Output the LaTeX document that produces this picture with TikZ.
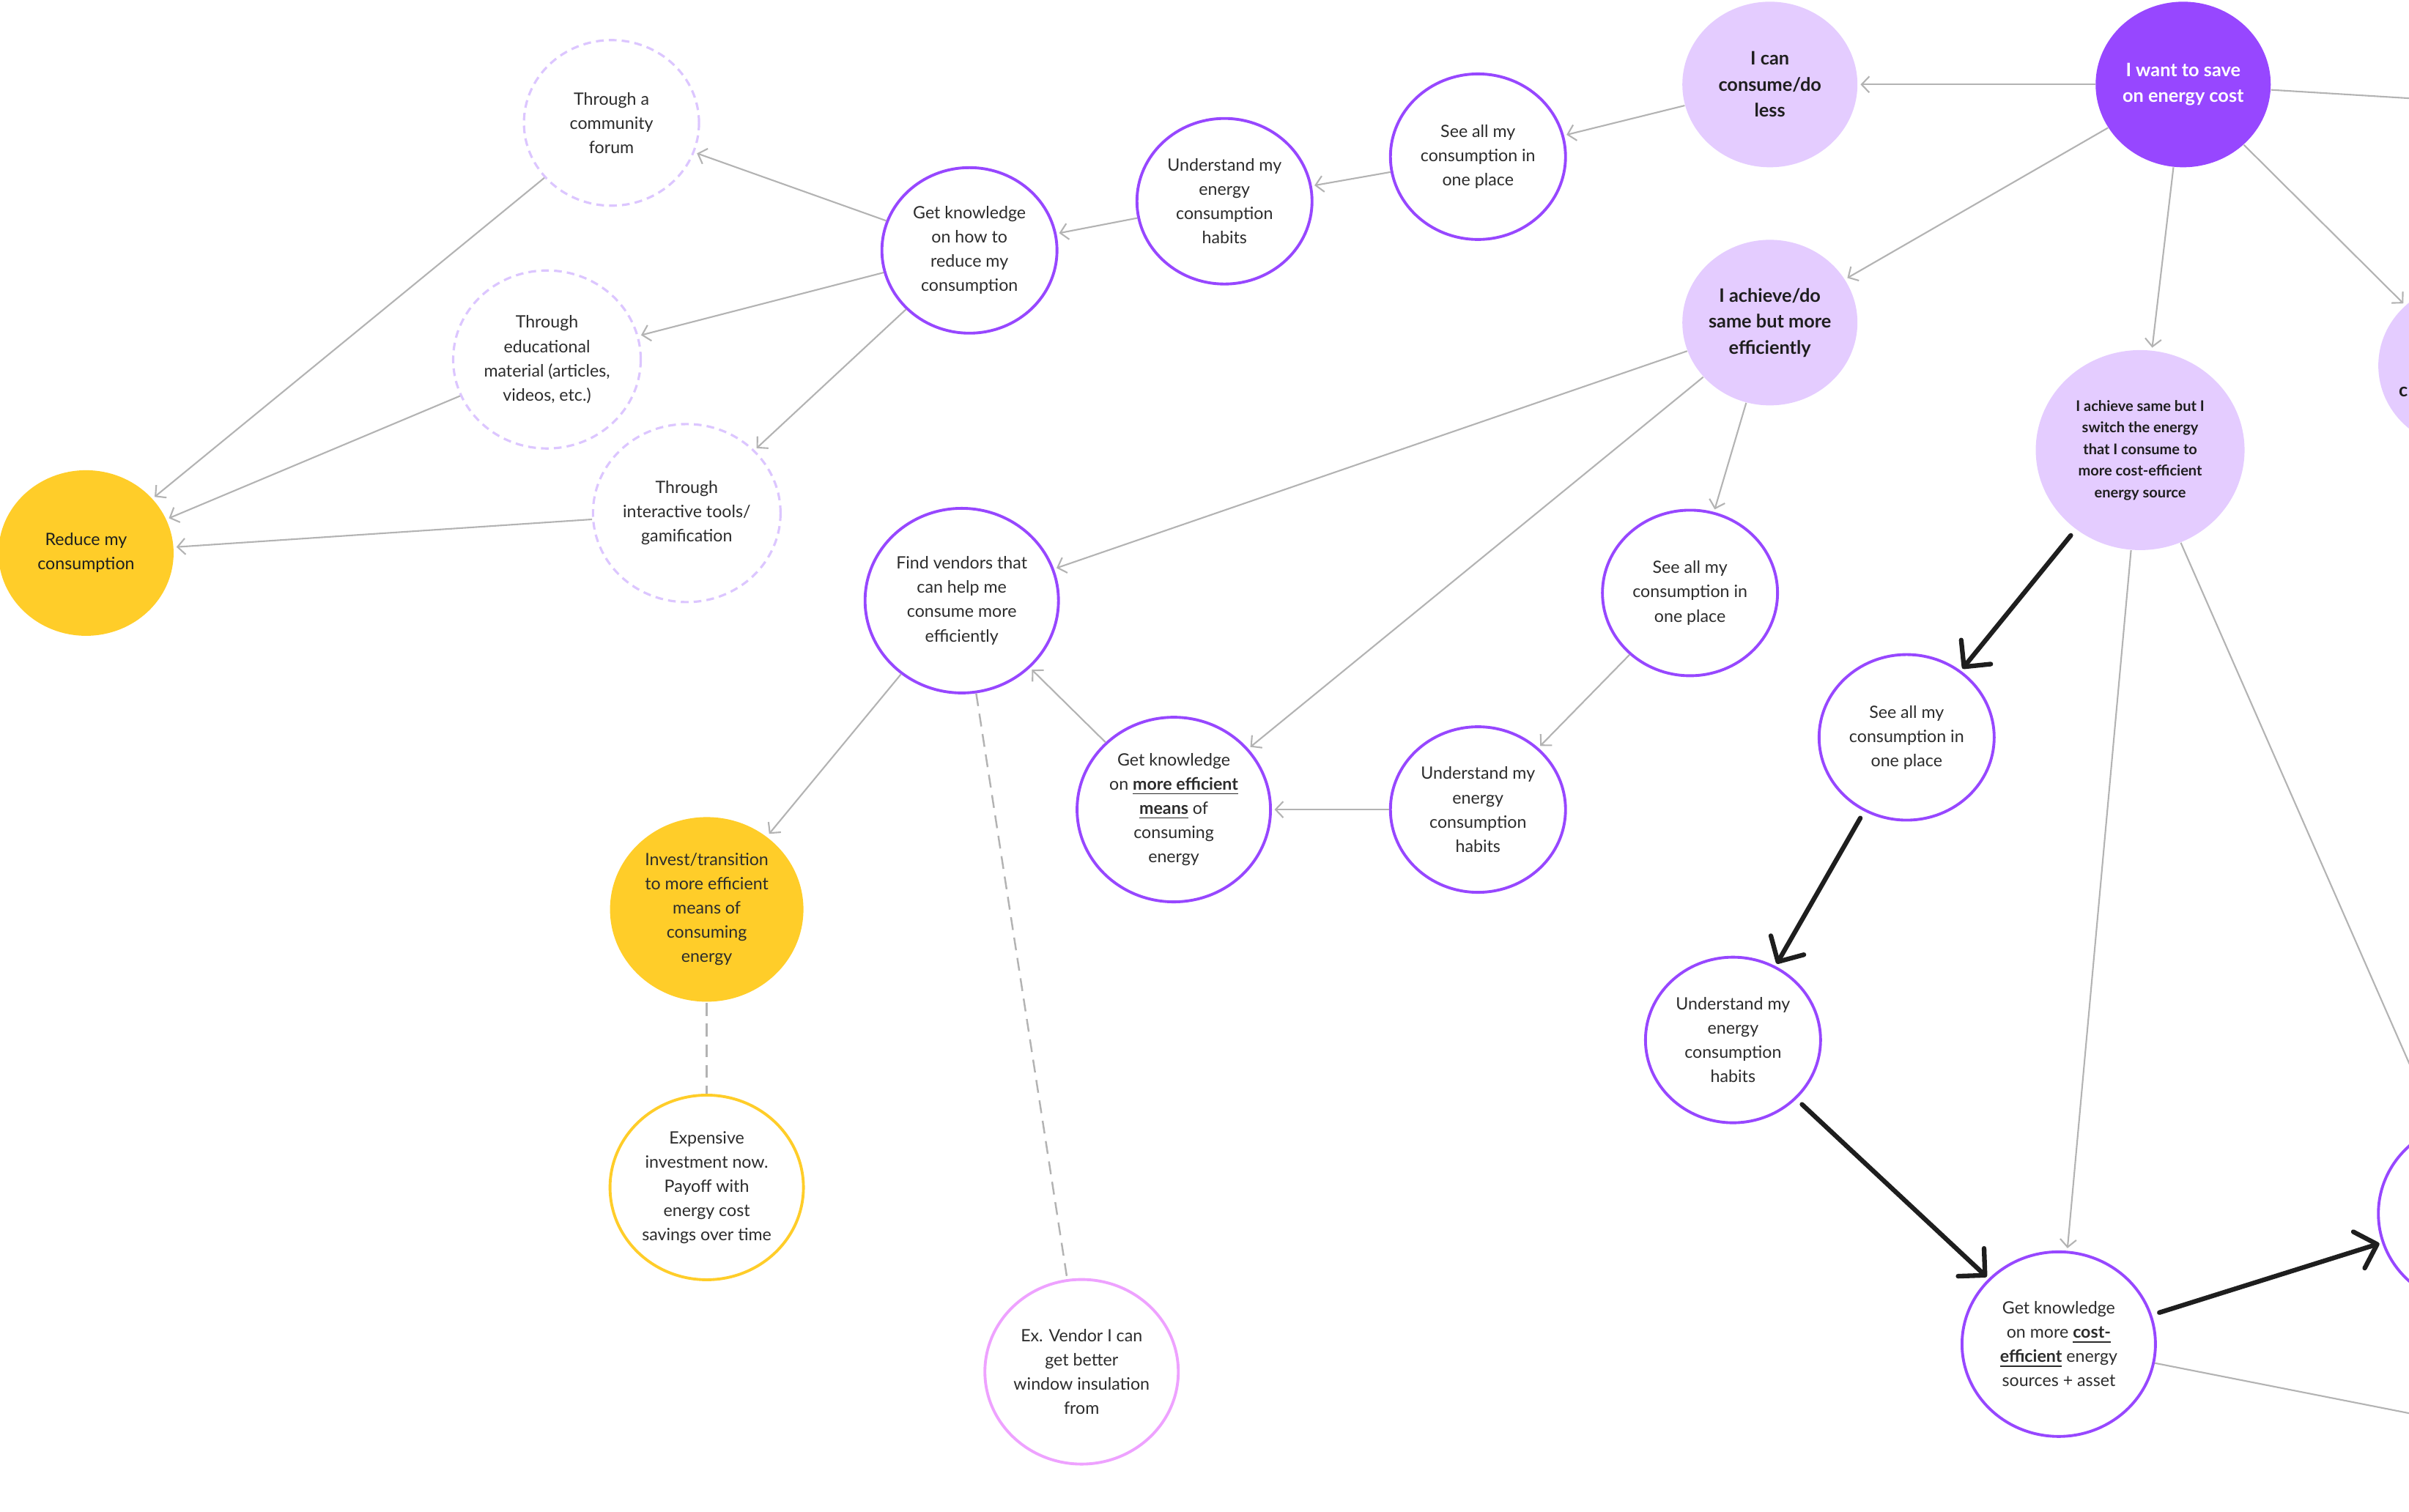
\documentclass[tikz,border=0pt]{standalone}
\usepackage{fontspec}
\setmainfont{Lato}
\usetikzlibrary{arrows.meta, shapes.geometric}
\definecolor{deeppurple}{HTML}{9747FF}
\definecolor{lavender}{HTML}{E4CCFF}
\definecolor{softlilac}{HTML}{DCC6FF}
\definecolor{sunny}{HTML}{FFCD29}
\definecolor{orchid}{HTML}{EEA2FF}
\definecolor{edgegray}{HTML}{B3B3B3}
\definecolor{ink}{HTML}{1E1E1E}
\definecolor{bodytext}{HTML}{2C2C2C}

\begin{document}
\begin{tikzpicture}[
    x=0.2097mm, y=-0.2097mm,
    bubble/.style={ellipse, draw=deeppurple, line width=1.1pt, fill=white, minimum width=2.39cm, minimum height=2.26cm, inner sep=0pt, align=center, font=\fontsize{6.6}{9.4}\selectfont, text=bodytext},
    bigbubble/.style={bubble, minimum width=2.64cm, minimum height=2.52cm},
    goal/.style={ellipse, fill=lavender, minimum width=2.39cm, minimum height=2.26cm, inner sep=0pt, align=center, font=\fontsize{7.2}{10.1}\selectfont\bfseries, text=ink},
    channel/.style={bubble, draw=softlilac, dash pattern=on 3pt off 2pt, line width=0.9pt},
    outcome/.style={bigbubble, draw=none, fill=sunny},
    thinarrow/.style={-{Straight Barb[length=1.05mm, width=2.2mm]}, edgegray, line width=0.6pt, shorten >=1pt},
    route/.style={-{Straight Barb[length=2.6mm, width=5.2mm, round]}, ink, line width=1.8pt, line cap=round, shorten <=3pt, shorten >=1pt},
    aside/.style={edgegray, dash pattern=on 5pt off 3pt, line width=0.7pt},
]
    \useasboundingbox (0,0) rectangle (1568,984);
    \clip (0,0) rectangle (1568,984);

    % Goal and strategies
    \node[goal, fill=deeppurple, text=white] (want) at (1421,55) {I want to save\\on energy cost};
    \node[goal] (less) at (1152,55) {I can\\consume/do\\less};
    \node[goal] (same) at (1152,210) {I achieve/do\\same but more\\efficiently};
    \node[goal, minimum width=2.85cm, minimum height=2.73cm, font=\fontsize{5.7}{8.4}\selectfont\bfseries] (switch) at (1393,293) {I achieve same but I\\switch the energy\\that I consume to\\more cost-efficient\\energy source};
    \node[goal] (sideR) at (1605,238) {};
    \node[font=\fontsize{7.2}{10.1}\selectfont\bfseries, text=ink, anchor=west, inner sep=0pt] (sideRtext) at (1561,255) {c};
    \coordinate (offA) at (1700,72);

    % Consume less
    \node[bubble] (see2) at (962,102) {See all my\\consumption in\\one place};
    \node[bubble] (habits1) at (797,131) {Understand my\\energy\\consumption\\habits};
    \node[bubble] (howto) at (631,163) {Get knowledge\\on how to\\reduce my\\consumption};
    \node[channel] (forum) at (398,80) {Through a\\community\\forum};
    \node[channel, minimum width=2.56cm, minimum height=2.43cm] (edu) at (356,234) {Through\\educational\\material (articles,\\videos, etc.)};
    \node[channel, minimum width=2.56cm, minimum height=2.43cm] (tools) at (447,334) {Through\\interactive tools/\\gamification};
    \node[goal, fill=sunny, font=\fontsize{6.6}{9.4}\selectfont] (reduce) at (56,360) {Reduce my\\consumption};

    % Same but more efficiently
    \node[bubble] (see1) at (1100,386) {See all my\\consumption in\\one place};
    \node[bubble] (habits2) at (962,527) {Understand my\\energy\\consumption\\habits};
    \node[bigbubble] (meansK) at (764,527) {Get knowledge\\on \underline{\textbf{more efficient}}\\\underline{\textbf{means}} of\\consuming\\energy};
    \node[bigbubble] (vendors) at (626,391) {Find vendors that\\can help me\\consume more\\efficiently};
    \node[outcome] (invest) at (460,592) {Invest/transition\\to more efficient\\means of\\consuming\\energy};
    \node[bigbubble, draw=sunny] (payoff) at (460,773) {Expensive\\investment now.\\Payoff with\\energy cost\\savings over time};
    \node[bigbubble, draw=orchid] (vendorEx) at (704,893) {Ex. Vendor I can\\get better\\window insulation\\from};

    % Switch energy source
    \node[bubble] (see3) at (1241,480) {See all my\\consumption in\\one place};
    \node[bubble] (habits3) at (1128,677) {Understand my\\energy\\consumption\\habits};
    \node[bigbubble] (costK) at (1340,875) {Get knowledge\\on more \underline{\textbf{cost-}}\\\underline{\textbf{efficient}} energy\\sources + asset};
    \node[bigbubble] (sideF) at (1611,790) {};
    \coordinate (offC) at (1700,946);

    % Arrows from the goal
    \draw[thinarrow] (want) -- (less);
    \draw[thinarrow] (want) -- (same);
    \draw[thinarrow] (want) -- (switch);
    \draw[thinarrow] (want) -- (sideR);
    \draw[edgegray, line width=0.6pt] (want) -- (offA);

    % Consume less chain
    \draw[thinarrow] (less) -- (see2);
    \draw[thinarrow] (see2) -- (habits1);
    \draw[thinarrow] (habits1) -- (howto);
    \draw[thinarrow] (howto) -- (forum);
    \draw[thinarrow] (howto) -- (edu);
    \draw[thinarrow] (howto) -- (tools);
    \draw[thinarrow] (forum) -- (reduce);
    \draw[thinarrow] (edu) -- (reduce);
    \draw[thinarrow] (tools) -- (reduce);

    % Efficiency chain
    \draw[thinarrow] (same) -- (vendors);
    \draw[thinarrow] (same) -- (meansK);
    \draw[thinarrow] (same) -- (see1);
    \draw[thinarrow] (see1) -- (habits2);
    \draw[thinarrow] (habits2) -- (meansK);
    \draw[thinarrow] (meansK) -- (vendors);
    \draw[thinarrow] (vendors) -- (invest);
    \draw[aside] (vendors) -- (vendorEx);
    \draw[aside] (invest) -- (payoff);

    % Switch chain
    \draw[route] (switch) -- (see3);
    \draw[route] (see3) -- (habits3);
    \draw[route] (habits3) -- (costK);
    \draw[route] (costK) -- (sideF);
    \draw[thinarrow] (switch) -- (costK);
    \draw[thinarrow] (switch) -- (sideF);
    \draw[edgegray, line width=0.6pt] (costK) -- (offC);
\end{tikzpicture}
\end{document}
